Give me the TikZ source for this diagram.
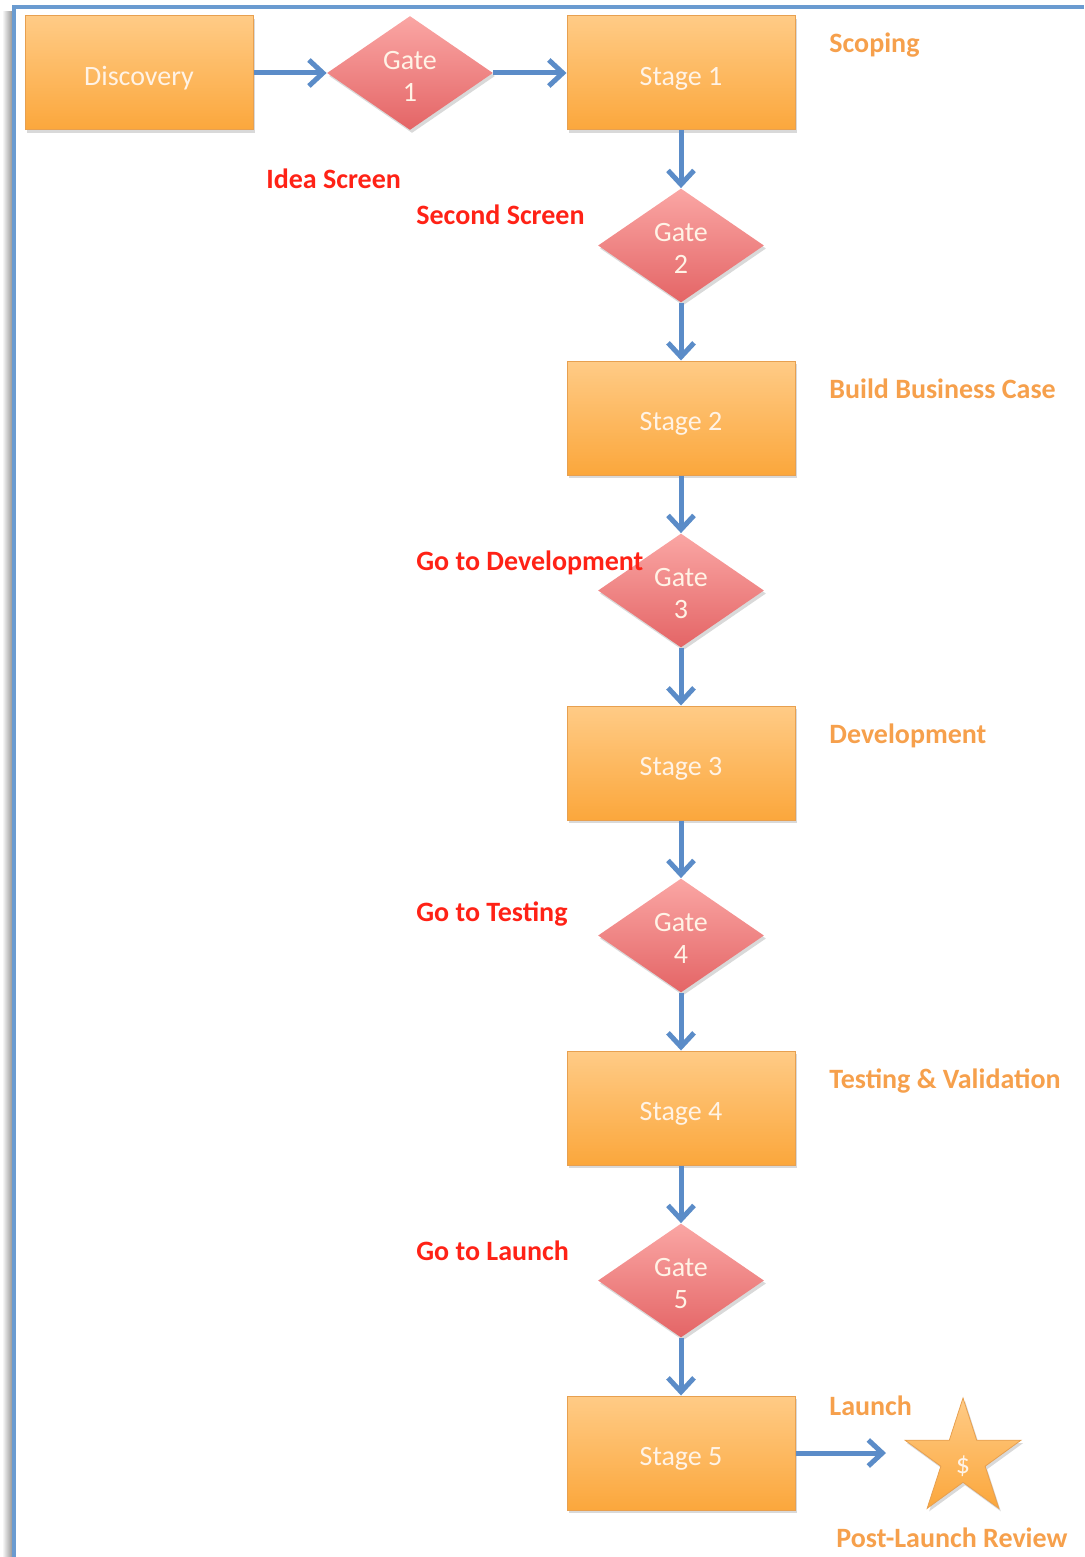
\documentclass[tikz,border=0pt]{standalone}
\usepackage{fontspec}
\setmainfont{Carlito}
\usetikzlibrary{shapes.geometric,arrows.meta,shadows}
\definecolor{frameblue}{HTML}{6A9BD0}
\definecolor{flowblue}{HTML}{5B8CC8}
\definecolor{boxtop}{HTML}{FFCB86}
\definecolor{boxbot}{HTML}{FBA73C}
\definecolor{boxedge}{HTML}{E7A050}
\definecolor{gatetop}{HTML}{FAA6A4}
\definecolor{gatebot}{HTML}{E46566}
\definecolor{gatelbl}{HTML}{FF2216}
\definecolor{stagelbl}{HTML}{F6A04C}
\definecolor{shapetext}{HTML}{FFF3E6}
\tikzset{
  stagebox/.style={rectangle, draw=boxedge, line width=0.5pt,
    top color=boxtop, bottom color=boxbot,
    minimum width=114pt, minimum height=57pt, inner sep=0pt,
    text height=13pt, text depth=0.4pt,
    text=shapetext, font=\fontsize{14}{17}\selectfont,
    drop shadow={shadow xshift=1pt, shadow yshift=-1.5pt, opacity=0.3}},
  gatebox/.style={diamond, aspect=1.43, top color=gatetop, bottom color=gatebot,
    minimum width=83pt, minimum height=57pt, inner sep=0pt,
    drop shadow={shadow xshift=1pt, shadow yshift=-1.5pt, opacity=0.3}},
  gatetext/.style={text=shapetext, align=center, yshift=-1.5pt, inner sep=0pt,
    font=\fontsize{14}{16}\selectfont},
  starbox/.style={star, star points=5, star point ratio=2.62,
    top color=boxtop, bottom color=boxbot, draw=boxedge, line width=0.4pt,
    minimum size=61pt, inner sep=0pt, text height=14pt, text depth=0pt,
    text=shapetext, font=\fontsize{14}{16}\selectfont,
    drop shadow={shadow xshift=1pt, shadow yshift=-1.5pt, opacity=0.3}},
  flow/.style={draw=flowblue, line width=2.5pt,
    -{Straight Barb[length=7pt,width=13pt,line width=2.5pt]}},
  gatelabel/.style={anchor=base west, inner sep=0pt, text=gatelbl,
    font=\fontsize{14}{17}\selectfont\bfseries},
  stagelabel/.style={anchor=base west, inner sep=0pt, text=stagelbl,
    font=\fontsize{14}{17}\selectfont\bfseries}
}
\begin{document}
\begin{tikzpicture}[x=0.5pt,y=-0.5pt]
  \useasboundingbox (0,0) rectangle (1084,1557);
  % page frame with a soft shadow on its left side
  \shade[left color=white, right color=black!40] (2,12) rectangle (12,1557);
  \draw[frameblue, line width=2pt] (14,1557) -- (14,7) -- (1084,7);

  % process shapes
  \node[stagebox] (disc) at (139,73) {Discovery};
  \node[gatebox, label={[gatetext]center:Gate\\1}] (g1) at (410,73) {};
  \node[stagebox] (s1) at (681,73) {Stage 1};
  \node[gatebox, label={[gatetext]center:Gate\\2}] (g2) at (681,245.5) {};
  \node[stagebox] (s2) at (681,418) {Stage 2};
  \node[gatebox, label={[gatetext]center:Gate\\3}] (g3) at (681,590.5) {};
  \node[stagebox] (s3) at (681,763) {Stage 3};
  \node[gatebox, label={[gatetext]center:Gate\\4}] (g4) at (681,935.5) {};
  \node[stagebox] (s4) at (681,1108) {Stage 4};
  \node[gatebox, label={[gatetext]center:Gate\\5}] (g5) at (681,1280.5) {};
  \node[stagebox] (s5) at (681,1453) {Stage 5};
  \node[starbox]  (prize) at (963,1459) {\$};
  \coordinate (launchEnd) at (886,1453);

  % connectors
  \draw[flow] (disc.east) -- (g1.west);
  \draw[flow] (g1.east) -- (s1.west);
  \draw[flow] (s1.south) -- (g2.north);
  \draw[flow] (g2.south) -- (s2.north);
  \draw[flow] (s2.south) -- (g3.north);
  \draw[flow] (g3.south) -- (s3.north);
  \draw[flow] (s3.south) -- (g4.north);
  \draw[flow] (g4.south) -- (s4.north);
  \draw[flow] (s4.south) -- (g5.north);
  \draw[flow] (g5.south) -- (s5.north);
  \draw[flow] (s5.east) -- (launchEnd);

  % gate decisions
  \node[gatelabel] (lIdea) at (266,189) {Idea Screen};
  \node[gatelabel] (lSecond) at (416,225) {Second Screen};
  \node[gatelabel] (lDev) at (416,570) {Go to Development};
  \node[gatelabel] (lTest) at (416,921) {Go to Testing};
  \node[gatelabel] (lLaunch) at (416,1260) {Go to Launch};

  % stage activities
  \node[stagelabel] (aScope) at (829,53) {Scoping};
  \node[stagelabel] (aCase) at (829,398) {Build Business Case};
  \node[stagelabel] (aDev) at (829,743) {Development};
  \node[stagelabel] (aTest) at (829,1088) {Testing \& Validation};
  \node[stagelabel] (aLaunch) at (829,1415) {Launch};
  \node[stagelabel] (aReview) at (836,1547) {Post-Launch Review};
\end{tikzpicture}
\end{document}
